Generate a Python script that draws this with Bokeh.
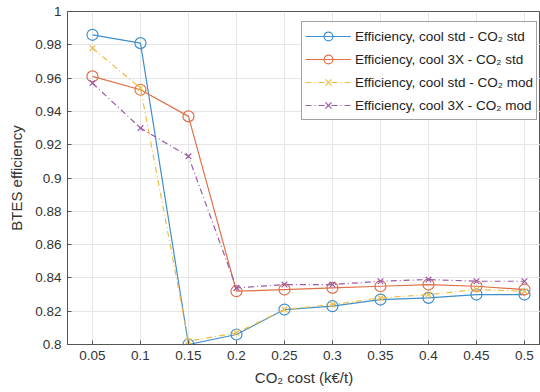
from bokeh.plotting import figure
from bokeh.models import Range1d, FixedTicker, Legend
from bokeh.embed import file_html
from bokeh.resources import INLINE

co2_cost = [0.05, 0.1, 0.15, 0.2, 0.25, 0.3, 0.35, 0.4, 0.45, 0.5]
eff_std_std = [0.986, 0.981, 0.800, 0.806, 0.821, 0.823, 0.827, 0.828, 0.830, 0.830]
eff_3x_std = [0.961, 0.953, 0.937, 0.832, 0.833, 0.834, 0.835, 0.836, 0.835, 0.833]
eff_std_mod = [0.978, 0.954, 0.802, 0.807, 0.821, 0.824, 0.828, 0.830, 0.833, 0.832]
eff_3x_mod = [0.957, 0.930, 0.913, 0.834, 0.836, 0.836, 0.838, 0.839, 0.838, 0.838]

x_ticks = [0.05, 0.1, 0.15, 0.2, 0.25, 0.3, 0.35, 0.4, 0.45, 0.5]
y_ticks = [0.8, 0.82, 0.84, 0.86, 0.88, 0.9, 0.92, 0.94, 0.96, 0.98, 1.0]

labels = ["Efficiency, cool std - CO\u2082 std",
          "Efficiency, cool 3X - CO\u2082 std",
          "Efficiency, cool std - CO\u2082 mod",
          "Efficiency, cool 3X - CO\u2082 mod"]
colors = ["#3f8fcc", "#e07048", "#efbd45", "#9a5aa6"]

FONT = "Liberation Sans"
TXT = "#333333"

p = figure(width=540, height=392, output_backend="svg", toolbar_location=None,
           x_range=Range1d(0.024, 0.5167), y_range=Range1d(0.8, 1.0),
           min_border_left=67, min_border_right=0, min_border_top=11, min_border_bottom=48)
p.background_fill_color = "white"
p.border_fill_color = "white"
p.outline_line_color = "#555555"
p.outline_line_width = 1

for ax in (p.xaxis, p.yaxis):
    ax.major_tick_in = 4
    ax.major_tick_out = 0
    ax.minor_tick_line_color = None
    ax.axis_line_color = "#555555"
    ax.major_tick_line_color = "#555555"
    ax.major_label_text_font = FONT
    ax.major_label_text_font_size = "13.5px"
    ax.major_label_text_color = TXT
    ax.axis_label_text_font = FONT
    ax.axis_label_text_font_size = "15px"
    ax.axis_label_text_color = TXT
    ax.axis_label_text_font_style = "normal"

p.xaxis.ticker = FixedTicker(ticks=x_ticks)
p.yaxis.ticker = FixedTicker(ticks=y_ticks)
p.yaxis.major_label_overrides = {1.0: "1", 0.8: "0.8", 0.9: "0.9"}
p.xaxis.major_label_overrides = {0.1: "0.1", 0.2: "0.2", 0.3: "0.3", 0.4: "0.4", 0.5: "0.5"}
p.xaxis.axis_label = "CO\u2082 cost (k\u20ac/t)"
p.yaxis.axis_label = "BTES efficiency"
p.xaxis.major_label_standoff = 6
p.yaxis.major_label_standoff = 6
p.xaxis.axis_label_standoff = 6
p.yaxis.axis_label_standoff = 7

p.xgrid.grid_line_color = "#e6e6e6"
p.ygrid.grid_line_color = "#e6e6e6"

items = []
series = [eff_std_std, eff_3x_std, eff_std_mod, eff_3x_mod]
for i, (ys, col, lab) in enumerate(zip(series, colors, labels)):
    dash = "solid" if i < 2 else "6 3 1 3"
    ln = p.line(co2_cost, ys, line_color=col, line_width=1.2, line_dash=dash)
    if i < 2:
        mk = p.scatter(co2_cost, ys, marker="circle", size=11, fill_color=None,
                       line_color=col, line_width=1.2)
    else:
        mk = p.scatter(co2_cost, ys, marker="x", size=8, line_color=col, line_width=1.2)
    items.append((lab, [ln, mk]))

legend = Legend(items=items, location=(234, 224))
legend.label_text_font = FONT
legend.label_text_font_size = "13.5px"
legend.label_text_color = "#222222"
legend.glyph_width = 46
legend.glyph_height = 22
legend.label_height = 22
legend.spacing = 1
legend.padding = 3
legend.margin = 0
legend.label_standoff = 4
legend.border_line_color = "#444444"
legend.border_line_width = 1
legend.background_fill_color = "white"
p.add_layout(legend, "center")

open("out.html", "w").write(file_html(p, INLINE))
